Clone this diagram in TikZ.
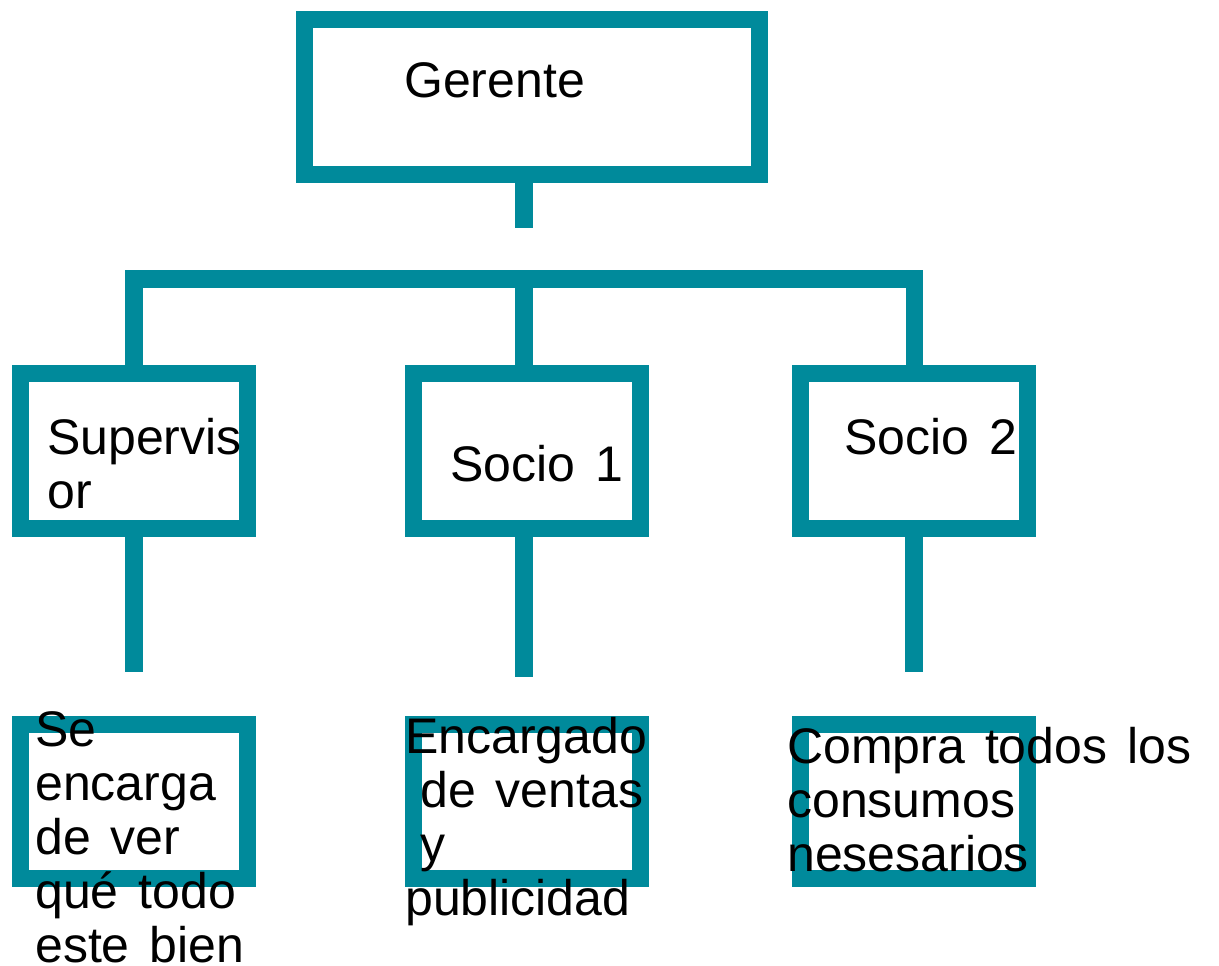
\documentclass[tikz,border=0pt]{standalone}
\usepackage{fontspec}
\setmainfont{Liberation Sans}
\definecolor{orgteal}{RGB}{0,138,155}
\newcommand\orgfont{\fontsize{50}{54}\selectfont\spaceskip=20pt\relax}
\begin{document}
\begin{tikzpicture}[x=1pt,y=-1pt,
  box/.style = {draw=orgteal, line width=17pt, minimum width=227pt, minimum height=155pt, inner sep=0pt},
  wire/.style = {draw=orgteal, line width=17.5pt},
  txt/.style = {font=\orgfont, anchor=base west, inner sep=0pt, align=left}]
  \useasboundingbox (0,0) rectangle (1219,966);
  % boxes
  \node[box, minimum width=455pt, minimum height=154.5pt] (ger) at (531.5,96.75) {};
  \node[box] (sup) at (133.75,450.5) {};
  \node[box] (soc1) at (527,450.5) {};
  \node[box] (soc2) at (914.25,450.5) {};
  \node[box, minimum height=154.5pt] (tsup) at (133.75,801.25) {};
  \node[box, minimum height=154.5pt] (tsoc1) at (527,801.25) {};
  \node[box, minimum height=154.5pt] (tsoc2) at (913.5,801.25) {};
  % connectors
  \coordinate (hub) at (524,279);
  \coordinate (gend) at (524,228);
  \coordinate (supend) at (134,672);
  \coordinate (soc1end) at (524,677);
  \coordinate (soc2end) at (914,672);
  \draw[wire] (gend |- ger.south) -- (gend);
  \draw[wire] (sup.north) -- (sup.north |- hub) -- (soc2.north |- hub) -- (soc2.north);
  \draw[wire] (hub) -- (hub |- soc1.north);
  \draw[wire] (supend |- sup.south) -- (supend);
  \draw[wire] (soc1end |- soc1.south) -- (soc1end);
  \draw[wire] (soc2end |- soc2.south) -- (soc2end);
  % texts (base = last line)
  \node[txt] (tger) at (404,98) {Gerente};
  \node[txt] (tsupv) at (47,508) {Supervis\\or};
  \node[txt] (tsocio1) at (450,481) {Socio 1};
  \node[txt] (tsocio2) at (844,454) {Socio 2};
  \node[txt] (tdesc1) at (35,962) {Se\\encarga\\de ver\\qué todo\\este bien};
  \node[txt] (tdesc2) at (405,915) {Encargado\\\hspace*{15pt}de ventas\\\hspace*{15pt}y\\publicidad};
  \node[txt] (tdesc3) at (787,871) {Compra todos los\\consumos\\nesesarios};
\end{tikzpicture}
\end{document}
